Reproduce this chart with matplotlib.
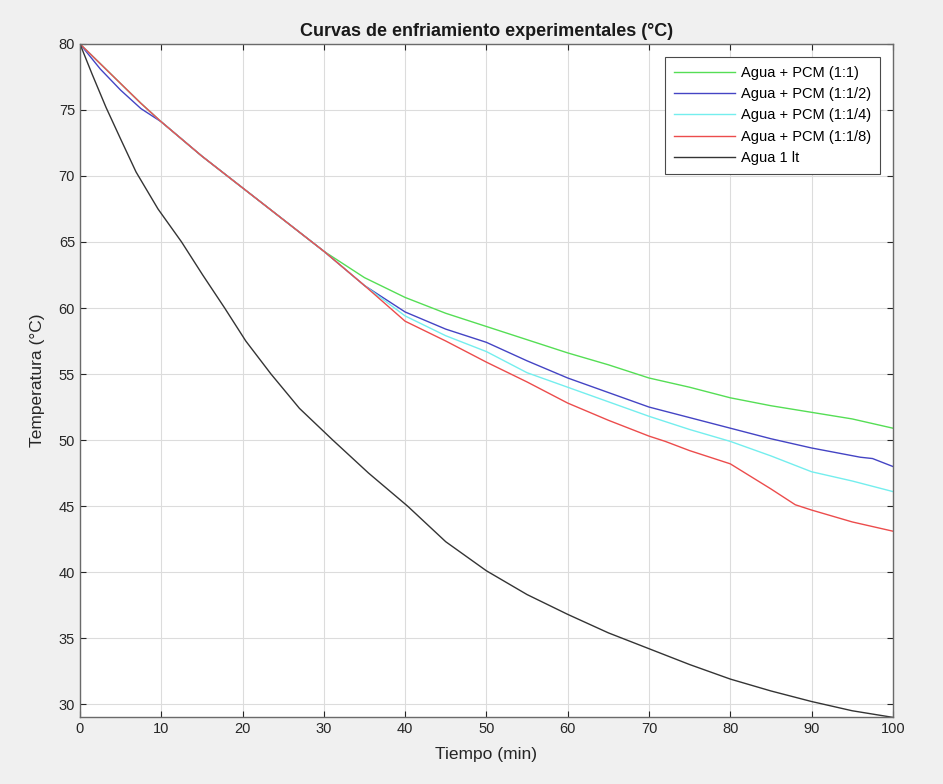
import matplotlib

matplotlib.use("Agg")
import matplotlib.pyplot as plt

plt.rcParams["font.family"] = ["Liberation Sans", "DejaVu Sans"]

# tiempo (min) para las curvas con PCM
t_pcm = [0, 2.5, 5, 7.5, 10, 15, 20, 25, 30, 35, 40, 45, 50, 55, 60, 65, 70, 75, 80,
         85, 90, 95, 100]

green_T = [80, 78.5, 77.0, 75.5, 74.1, 71.5, 69.1, 66.7, 64.3, 62.3, 60.8, 59.6, 58.6,
           57.6, 56.6, 55.7, 54.7, 54.0, 53.2, 52.6, 52.1, 51.6, 50.9]

blue_t = [0, 2.5, 5, 7.5, 10, 15, 20, 25, 30, 35, 40, 45, 50, 55, 60, 65, 70, 75, 80,
          85, 90, 96, 97.5, 100]
blue_T = [80, 78.1, 76.5, 75.1, 74.1, 71.5, 69.1, 66.7, 64.3, 61.7, 59.7, 58.4, 57.4,
          56.0, 54.7, 53.6, 52.5, 51.7, 50.9, 50.1, 49.4, 48.7, 48.6, 48.0]

cyan_T = [80, 78.5, 77.0, 75.5, 74.1, 71.5, 69.1, 66.7, 64.3, 61.7, 59.4, 57.9, 56.7,
          55.1, 54.0, 52.9, 51.8, 50.8, 49.9, 48.8, 47.6, 46.9, 46.1]

red_t = [0, 2.5, 5, 7.5, 10, 15, 20, 25, 30, 35, 40, 45, 50, 55, 60, 65, 70, 72, 75,
         80, 85, 88, 90, 95, 100]
red_T = [80, 78.5, 77.0, 75.5, 74.1, 71.5, 69.1, 66.7, 64.3, 61.7, 59.0, 57.5, 55.9,
         54.4, 52.8, 51.5, 50.3, 49.9, 49.2, 48.2, 46.3, 45.1, 44.7, 43.8, 43.1]

black_t = [0, 1.5, 3.2, 5, 6.9, 9.6, 12.5, 15.1, 17.8, 20.4, 23.5, 27, 31.1, 35.5,
           40.3, 45, 50, 55, 60, 65, 70, 75, 80, 85, 90, 95, 100]
black_T = [80, 77.7, 75.2, 72.8, 70.3, 67.5, 65, 62.5, 60, 57.5, 55, 52.4, 50, 47.5,
           45, 42.3, 40.1, 38.3, 36.8, 35.4, 34.2, 33.0, 31.9, 31.0, 30.2, 29.5, 29.0]

labels = ["Agua + PCM (1:1)", "Agua + PCM (1:1/2)", "Agua + PCM (1:1/4)",
          "Agua + PCM (1:1/8)", "Agua 1 lt"]

fig = plt.figure(figsize=(9.43, 7.84), dpi=100, facecolor="#f0f0f0")
ax = fig.add_axes([0.0848, 0.085, 0.862, 0.859])

ax.plot(t_pcm, green_T, color="#55de55", lw=1.0, label=labels[0])
ax.plot(blue_t, blue_T, color="#4444c4", lw=1.0, label=labels[1])
ax.plot(t_pcm, cyan_T, color="#74eeee", lw=1.0, label=labels[2])
ax.plot(red_t, red_T, color="#ec4c4c", lw=1.0, label=labels[3])
ax.plot(black_t, black_T, color="#343434", lw=1.0, label=labels[4])

ax.set_xlim(0, 100)
ax.set_ylim(29, 80)
ax.set_xticks(range(0, 101, 10))
ax.set_yticks(range(30, 81, 5))
ax.grid(True, color="#dcdcdc", lw=0.8)
ax.tick_params(direction="in", top=True, right=True, labelsize=10.5,
               colors="#262626", length=4)
for s in ax.spines.values():
    s.set_color("#6a6a6a")
    s.set_linewidth(1.0)

ax.set_title("Curvas de enfriamiento experimentales (°C)", fontsize=13,
             fontweight="bold", color="#1a1a1a", pad=6)
ax.set_xlabel("Tiempo (min)", fontsize=12.5, color="#262626", labelpad=8)
ax.set_ylabel("Temperatura (°C)", fontsize=12.5, color="#262626", labelpad=10)

leg = ax.legend(loc="upper right", fontsize=10.5, handlelength=4.2, labelspacing=0.5,
                borderaxespad=0.9, borderpad=0.6, fancybox=False, framealpha=1.0,
                edgecolor="#4a4a4a", handletextpad=0.4)
leg.get_frame().set_linewidth(0.8)

fig.savefig("out.png", dpi=100, facecolor=fig.get_facecolor())
